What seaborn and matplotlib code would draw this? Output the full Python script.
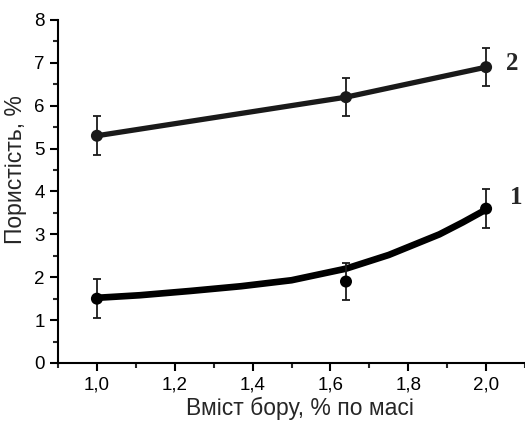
import matplotlib
matplotlib.use("Agg")
import matplotlib.pyplot as plt
import seaborn as sns
import pandas as pd
from matplotlib.ticker import MultipleLocator, FuncFormatter

# точки вимірювань
boron = [1.0, 1.64, 2.0]
por_1 = [1.5, 1.9, 3.6]
err_1 = [0.45, 0.43, 0.45]
por_2 = [5.3, 6.2, 6.9]
err_2 = [0.45, 0.45, 0.45]

# згладжена крива 1
fit1_x = [1.0, 1.11, 1.24, 1.37, 1.5, 1.64, 1.75, 1.88, 1.94, 2.0]
fit1_y = [1.52, 1.58, 1.68, 1.79, 1.93, 2.2, 2.52, 3.0, 3.28, 3.58]

sns.set_style("ticks")
plt.rcParams['font.family'] = ['Liberation Sans', 'DejaVu Sans']

fig = plt.figure(figsize=(5.25, 4.21), dpi=100)
ax = fig.add_axes([0.1105, 0.1378, 0.8895, 0.8147])

df1 = pd.DataFrame({'x': fit1_x, 'y': fit1_y})
df2 = pd.DataFrame({'x': boron, 'y': por_2})
sns.lineplot(data=df1, x='x', y='y', ax=ax, color='black', lw=4.8, solid_joinstyle='round')
sns.lineplot(data=df2, x='x', y='y', ax=ax, color='#1a1a1a', lw=3.8)

ax.errorbar(boron, por_1, yerr=err_1, fmt='none', ecolor='#1a1a1a', elinewidth=1.3, capsize=3, capthick=1.3)
ax.errorbar(boron, por_2, yerr=err_2, fmt='none', ecolor='#1a1a1a', elinewidth=1.3, capsize=3, capthick=1.3)
sns.scatterplot(x=boron, y=por_1, ax=ax, color='black', s=75, edgecolor='none', zorder=5)
sns.scatterplot(x=boron, y=por_2, ax=ax, color='#1a1a1a', s=75, edgecolor='none', zorder=5)

ax.text(2.052, 6.99, '2', fontsize=18, fontweight='bold', family='Liberation Serif', va='center')
ax.text(2.062, 3.87, '1', fontsize=18, fontweight='bold', family='Liberation Serif', va='center')

ax.set_xlim(0.9, 2.1)
ax.set_ylim(0, 8)
ax.xaxis.set_major_locator(MultipleLocator(0.2))
ax.xaxis.set_minor_locator(MultipleLocator(0.1))
ax.yaxis.set_major_locator(MultipleLocator(1))
ax.yaxis.set_minor_locator(MultipleLocator(0.5))
ax.xaxis.set_major_formatter(FuncFormatter(lambda v, p: f"{v:.1f}".replace('.', ',')))
ax.tick_params(which='major', direction='out', length=6, width=1.5, labelsize=13.5, colors='black')
ax.tick_params(which='minor', direction='out', length=3.5, width=1.5)
for s in ['left', 'bottom']:
    ax.spines[s].set_linewidth(1.5)
    ax.spines[s].set_color('black')
sns.despine(ax=ax)

ax.set_xlabel('Вміст бору, % по масі', fontsize=16.5, va='baseline')
ax.xaxis.set_label_coords(0.518, -0.152)
ax.set_ylabel('Пористість, %', fontsize=16.5, va='center')
ax.yaxis.set_label_coords(-0.09, 0.563)

fig.savefig('out.png', dpi=100)
